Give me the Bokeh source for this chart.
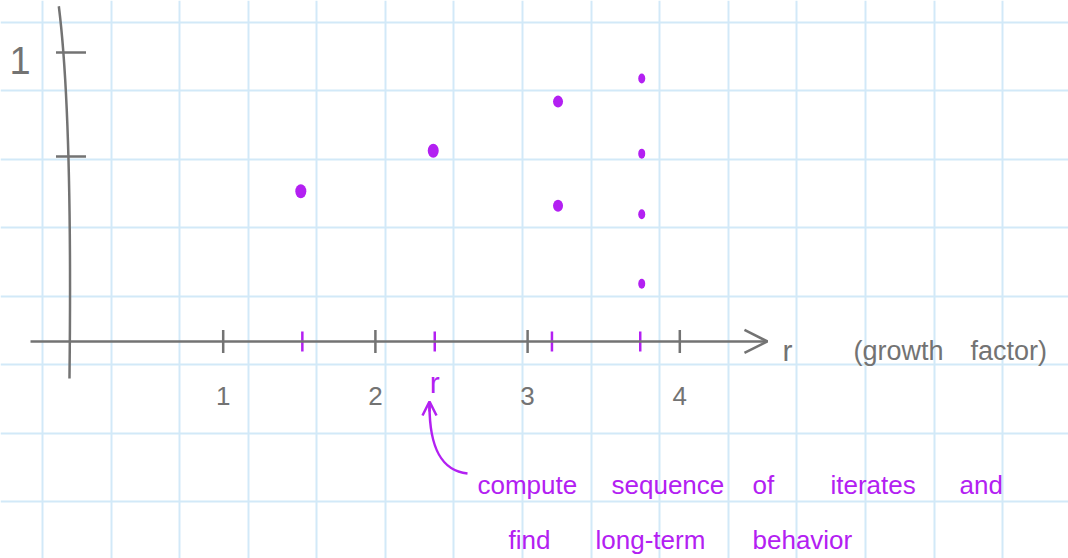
import numpy as np
from bokeh.plotting import figure
from bokeh.models import Range1d, Grid, SingleIntervalTicker, Arrow, OpenHead
from bokeh.core.properties import value
from bokeh.embed import file_html
from bokeh.resources import INLINE

# ---------------- data ----------------
axis_ticks_r = [1, 2, 3, 4]
axis_tick_labels = ["1", "2", "3", "4"]
y_ticks = [1.0, 0.64]
y_tick_label = ["1"]
# long-term behaviour of the iterates
r_fixed = [1.51, 2.38]
x_fixed = [0.52, 0.66]
r_cycle2 = [3.2, 3.2]
x_cycle2 = [0.83, 0.47]
r_cycle4 = [3.75, 3.75, 3.75, 3.75]
x_cycle4 = [0.91, 0.65, 0.44, 0.20]
r_marks = [1.52, 2.39, 3.16, 3.74]
chosen_r = [2.39]

note_row1 = ["compute", "sequence", "of", "iterates", "and"]
note_row2 = ["find", "long-term", "behavior"]

# ---------------- style ----------------
GRAY = "#737373"
PURPLE = "#b320f2"
GRIDC = "#d2e9f8"
FONT = value("Liberation Sans")

p = figure(width=1068, height=558,
           x_range=Range1d(-0.4632, 6.5539), y_range=Range1d(-0.7509, 1.1799),
           x_axis_type=None, y_axis_type=None, toolbar_location=None,
           output_backend="svg", min_border=0, outline_line_color=None,
           background_fill_color="white", border_fill_color="white")

# graph-paper coordinates (pixels) for the paper grid and hand notes
p.extra_x_ranges = {"paper": Range1d(-42, 1026)}
p.extra_y_ranges = {"paper": Range1d(-57, 501)}

p.add_layout(Grid(dimension=0, ticker=SingleIntervalTicker(interval=68.58),
                  x_range_name="paper", y_range_name="paper",
                  grid_line_color=GRIDC, grid_line_width=2))
p.add_layout(Grid(dimension=1, ticker=SingleIntervalTicker(interval=68.43),
                  x_range_name="paper", y_range_name="paper",
                  grid_line_color=GRIDC, grid_line_width=2))

# hand-drawn axes
p.bezier(x0=[-0.01], y0=[-0.128], x1=[-0.08], y1=[1.16],
         cx0=[0.005], cy0=[0.55], cx1=[-0.03], cy1=[0.95],
         line_color=GRAY, line_width=2.5)
p.add_layout(Arrow(end=OpenHead(size=23, line_color=GRAY, line_width=2.5),
                   x_start=-0.266, y_start=0, x_end=4.576, y_end=0,
                   line_color=GRAY, line_width=2.5))

# ticks
p.scatter(x=axis_ticks_r, y=0, marker="dash", angle=np.pi / 2, size=23,
          line_color=GRAY, line_width=2.5)
p.scatter(x=0, y=y_ticks, marker="dash", size=30, line_color=GRAY, line_width=2.5)
p.scatter(x=r_marks, y=0, marker="dash", angle=np.pi / 2, size=20,
          line_color=PURPLE, line_width=2.5)

# tick labels
p.text(x=axis_ticks_r, y=0, text=axis_tick_labels, text_align="center",
       text_baseline="alphabetic", y_offset=55, text_font=FONT,
       text_font_size="26px", text_color=GRAY)
p.text(x=0, y=[y_ticks[0]], text=y_tick_label, text_align="center",
       text_baseline="alphabetic", x_offset=-51, y_offset=8, text_font=FONT,
       text_font_size="38px", text_color=GRAY)
p.text(x=chosen_r, y=0, text=["r"], text_align="center",
       text_baseline="alphabetic", y_offset=41, text_font=FONT,
       text_font_size="30px", text_color=PURPLE)

# iterates
p.ellipse(x=r_fixed, y=x_fixed, width=11, height=14, width_units="screen",
          height_units="screen", fill_color=PURPLE, line_color=None)
p.ellipse(x=r_cycle2, y=x_cycle2, width=10, height=12, width_units="screen",
          height_units="screen", fill_color=PURPLE, line_color=None)
p.ellipse(x=r_cycle4, y=x_cycle4, width=7, height=10, width_units="screen",
          height_units="screen", fill_color=PURPLE, line_color=None)

# axis title
p.text(x=[740, 811, 928], y=[151, 151, 151], text=["r", "(growth", "factor)"],
       x_range_name="paper", y_range_name="paper", text_align="left",
       text_baseline="alphabetic", text_font=FONT,
       text_font_size=["30px", "27px", "27px"], text_color=GRAY)

# purple note with arrow
p.bezier(x0=[425], y0=[28], x1=[387], y1=[96], cx0=[398], cy0=[31], cx1=[387], cy1=[55],
         x_range_name="paper", y_range_name="paper", line_color=PURPLE, line_width=2.5)
p.add_layout(Arrow(end=OpenHead(size=14, line_color=PURPLE, line_width=2.5),
                   x_start=387, y_start=90, x_end=387, y_end=100,
                   x_range_name="paper", y_range_name="paper",
                   line_color=PURPLE, line_width=2.5))
p.text(x=[435, 569, 710, 788, 917], y=[17] * 5, text=note_row1,
       x_range_name="paper", y_range_name="paper", text_align="left",
       text_baseline="alphabetic", text_font=FONT, text_font_size="26px",
       text_color=PURPLE)
p.text(x=[466, 553, 710], y=[-38] * 3, text=note_row2,
       x_range_name="paper", y_range_name="paper", text_align="left",
       text_baseline="alphabetic", text_font=FONT, text_font_size="26px",
       text_color=PURPLE)

open("out.html", "w").write(file_html(p, INLINE))
